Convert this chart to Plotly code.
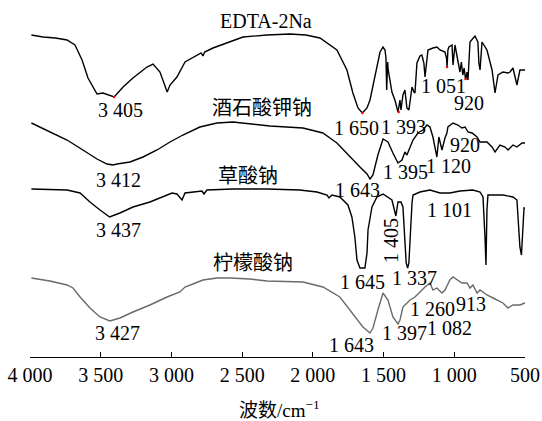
import plotly.graph_objects as go

# ---------------- data (wavenumber cm^-1, relative transmittance, offset) ----------------
edta_w = [3990, 3908, 3820, 3738, 3682, 3632, 3590, 3526, 3484, 3440, 3405, 3342, 3272, 3173, 3130,
          3081, 3045, 3030, 3010, 2961, 2904, 2819, 2790, 2777, 2765, 2706, 2607, 2494, 2324, 2162,
          2050, 1950, 1830, 1759, 1717, 1681, 1650, 1617, 1596, 1561, 1525, 1504, 1490, 1483, 1478,
          1471, 1469, 1441, 1420, 1398, 1384, 1377, 1363, 1349, 1335, 1321, 1306, 1299, 1285, 1278,
          1264, 1243, 1229, 1215, 1207, 1193, 1186, 1151, 1123, 1101, 1066, 1055, 1051, 1045, 1038,
          1016, 1009, 995, 974, 960, 950, 940, 930, 920, 910, 903, 889, 854, 833, 826, 818, 811, 804,
          769, 733, 712, 691, 656, 620, 606, 585, 557, 536, 500]
edta_t = [322, 320, 319, 317, 312, 297, 279, 263, 264, 262, 260, 270, 279, 290, 293,
          285, 270, 265, 272, 280, 295, 302, 304, 301, 305, 309, 314, 320, 322, 323,
          322, 319, 307, 287, 264, 249, 244, 249, 257, 282, 305, 310, 307, 299, 267,
          295, 289, 265, 257, 245, 257, 247, 262, 267, 249, 247, 267, 270, 265, 264,
          294, 301, 302, 294, 280, 299, 307, 309, 310, 307, 305, 299, 290, 307, 310,
          312, 292, 312, 295, 285, 295, 282, 289, 277, 285, 277, 315, 321, 315, 294, 287, 307, 315,
          307, 287, 264, 282, 285, 284, 285, 289, 272, 287, 287]

tart_w = [3990, 3859, 3738, 3626, 3526, 3456, 3412, 3385, 3293, 3201, 3102, 3010, 2919, 2799, 2678,
          2565, 2424, 2304, 2070, 1929, 1830, 1738, 1667, 1617, 1596, 1575, 1540, 1504, 1469, 1434,
          1398, 1370, 1349, 1335, 1313, 1292, 1257, 1222, 1193, 1172, 1151, 1123, 1109, 1087, 1066,
          1052, 1045, 1009, 974, 946, 924, 903, 874, 839, 818, 769, 733, 712, 677, 641, 620, 585,
          557, 521, 500]
tart_t = [234, 225, 217, 207, 198, 193, 192, 193, 195, 200, 207, 215, 222, 230, 234,
          235, 233, 231, 229, 224, 214, 200, 190, 183, 178, 182, 202, 218, 215, 204,
          194, 197, 205, 202, 209, 217, 224, 227, 232, 230, 220, 200, 220, 207, 219,
          224, 230, 234, 232, 229, 230, 225, 224, 220, 215, 215, 210, 205, 212, 210, 207, 212,
          210, 214, 214]

oxa_w = [3990, 3738, 3646, 3576, 3505, 3437, 3364, 3272, 3152, 3060, 2996, 2961, 2935, 2925, 2904,
         2819, 2784, 2770, 2749, 2565, 2326, 2093, 1971, 1900, 1886, 1865, 1809, 1752, 1724, 1703,
         1688, 1667, 1632, 1617, 1610, 1582, 1547, 1504, 1469, 1441, 1427, 1413, 1398, 1377, 1363,
         1349, 1340, 1330, 1321, 1299, 1292, 1243, 1172, 1101, 1031, 960, 869, 818, 797, 783, 776,
         769, 762, 656, 585, 557, 536, 525, 518, 507, 500]
oxa_t = [168, 167, 164, 155, 147, 140, 144, 150, 155, 160, 164, 163, 159, 157, 164,
         165, 166, 163, 167, 168, 168, 167, 165, 162, 159, 162, 160, 152, 140, 120,
         97, 89, 89, 104, 127, 150, 160, 163, 160, 157, 149, 141, 155, 155, 150,
         120, 94, 89, 94, 154, 162, 165, 167, 164, 164, 166, 167, 165, 160, 120, 92,
         147, 162, 162, 160, 157, 110, 102, 127, 149, 149]

citr_w = [3990, 3859, 3738, 3696, 3646, 3576, 3505, 3435, 3364, 3272, 3152, 3031, 2940, 2904, 2848,
          2777, 2678, 2586, 2445, 2324, 2070, 1929, 1809, 1738, 1717, 1646, 1596, 1575, 1540, 1504,
          1469, 1434, 1398, 1384, 1363, 1349, 1313, 1278, 1257, 1229, 1207, 1172, 1151, 1123, 1087,
          1066, 1031, 1009, 974, 946, 910, 889, 868, 839, 818, 769, 726, 698, 656, 620, 585, 536, 500]
citr_t = [79, 76, 72, 69, 60, 49, 40, 36, 39, 45, 52, 60, 65, 70, 73,
          77, 79, 79, 78, 76, 75, 70, 60, 47, 44, 30, 24, 29, 47, 64,
          57, 40, 33, 37, 50, 52, 57, 60, 63, 67, 70, 74, 67, 69, 64,
          67, 77, 80, 77, 74, 74, 69, 72, 64, 67, 62, 59, 57, 54, 49, 52, 52, 54]

mark_w = [3405, 1650, 1393, 1051, 920]
mark_t = [260, 244, 245, 290, 278]

tick_vals = [4000, 3500, 3000, 2500, 2000, 1500, 1000, 500]
tick_text = ["4 000", "3 500", "3 000", "2 500", "2 000", "1 500", "1 000", "500"]

# label text, pixel centre (x, y), angle, font size
labels = [
    ("EDTA-2Na", 266, 21, 0, 20), ("3 405", 120, 110, 0, 20),
    ("酒石酸钾钠", 262, 108, 0, 20), ("3 412", 118, 180, 0, 20),
    ("草酸钠", 248, 176, 0, 20), ("3 437", 118, 230, 0, 20),
    ("柠檬酸钠", 253, 263, 0, 20), ("3 427", 117, 333, 0, 20),
    ("1 650", 356, 128, 0, 20), ("1 393", 403, 127, 0, 20),
    ("1 051", 443, 86, 0, 20), ("920", 469, 103, 0, 20),
    ("1 643", 357, 190, 0, 20), ("1 395", 405, 172, 0, 20),
    ("1 120", 448, 166, 0, 20), ("920", 465, 145, 0, 20),
    ("1 101", 449, 210, 0, 20), ("1 405", 391, 241, -90, 20),
    ("1 645", 362, 282, 0, 20), ("1 337", 414, 278, 0, 20),
    ("1 643", 351, 345, 0, 20), ("1 397", 404, 333, 0, 20),
    ("1 260", 432, 309, 0, 20), ("913", 471, 304, 0, 20),
    ("1 082", 449, 328, 0, 20),
]

W, H = 542, 421
ML, MR, MT, MB = 30, 17, 0, 64
PW, PH = W - ML - MR, H - MT - MB

def px(x):
    return (x - ML) / PW

def py(y):
    return (H - MB - y) / PH

FONT = "Liberation Serif, Times New Roman, Noto Sans CJK SC, serif"

fig = go.Figure()
line_w = 1.4
fig.add_trace(go.Scatter(x=edta_w, y=edta_t, mode="lines", line=dict(color="black", width=line_w)))
fig.add_trace(go.Scatter(x=tart_w, y=tart_t, mode="lines", line=dict(color="black", width=line_w)))
fig.add_trace(go.Scatter(x=oxa_w, y=oxa_t, mode="lines", line=dict(color="black", width=line_w)))
fig.add_trace(go.Scatter(x=citr_w, y=citr_t, mode="lines", line=dict(color="#6a6a6a", width=line_w)))
fig.add_trace(go.Scatter(x=mark_w, y=mark_t, mode="markers", marker=dict(color="red", size=2.5)))

for text, x, y, ang, fs in labels:
    fig.add_annotation(x=px(x), y=py(y), xref="paper", yref="paper", text=text,
                       showarrow=False, textangle=ang, font=dict(size=fs, color="black", family=FONT),
                       xanchor="center", yanchor="middle")

fig.add_annotation(x=px(279), y=py(409), xref="paper", yref="paper",
                   text="波数/cm<sup>−1</sup>", showarrow=False,
                   font=dict(size=19, color="black", family=FONT), xanchor="center", yanchor="middle")

fig.update_layout(
    width=W, height=H,
    margin=dict(l=ML, r=MR, t=MT, b=MB),
    paper_bgcolor="white", plot_bgcolor="white",
    showlegend=False,
    font=dict(family=FONT, size=20, color="black"),
    xaxis=dict(range=[4000, 500], tickvals=tick_vals, ticktext=tick_text,
               ticks="inside", ticklen=5, tickwidth=1.2, tickcolor="black",
               showline=True, linecolor="black", linewidth=1.3, showgrid=False, zeroline=False,
               tickfont=dict(size=20, family=FONT, color="black")),
    yaxis=dict(range=[0, PH], visible=False, showgrid=False, zeroline=False),
)

fig.write_html("out.html")
